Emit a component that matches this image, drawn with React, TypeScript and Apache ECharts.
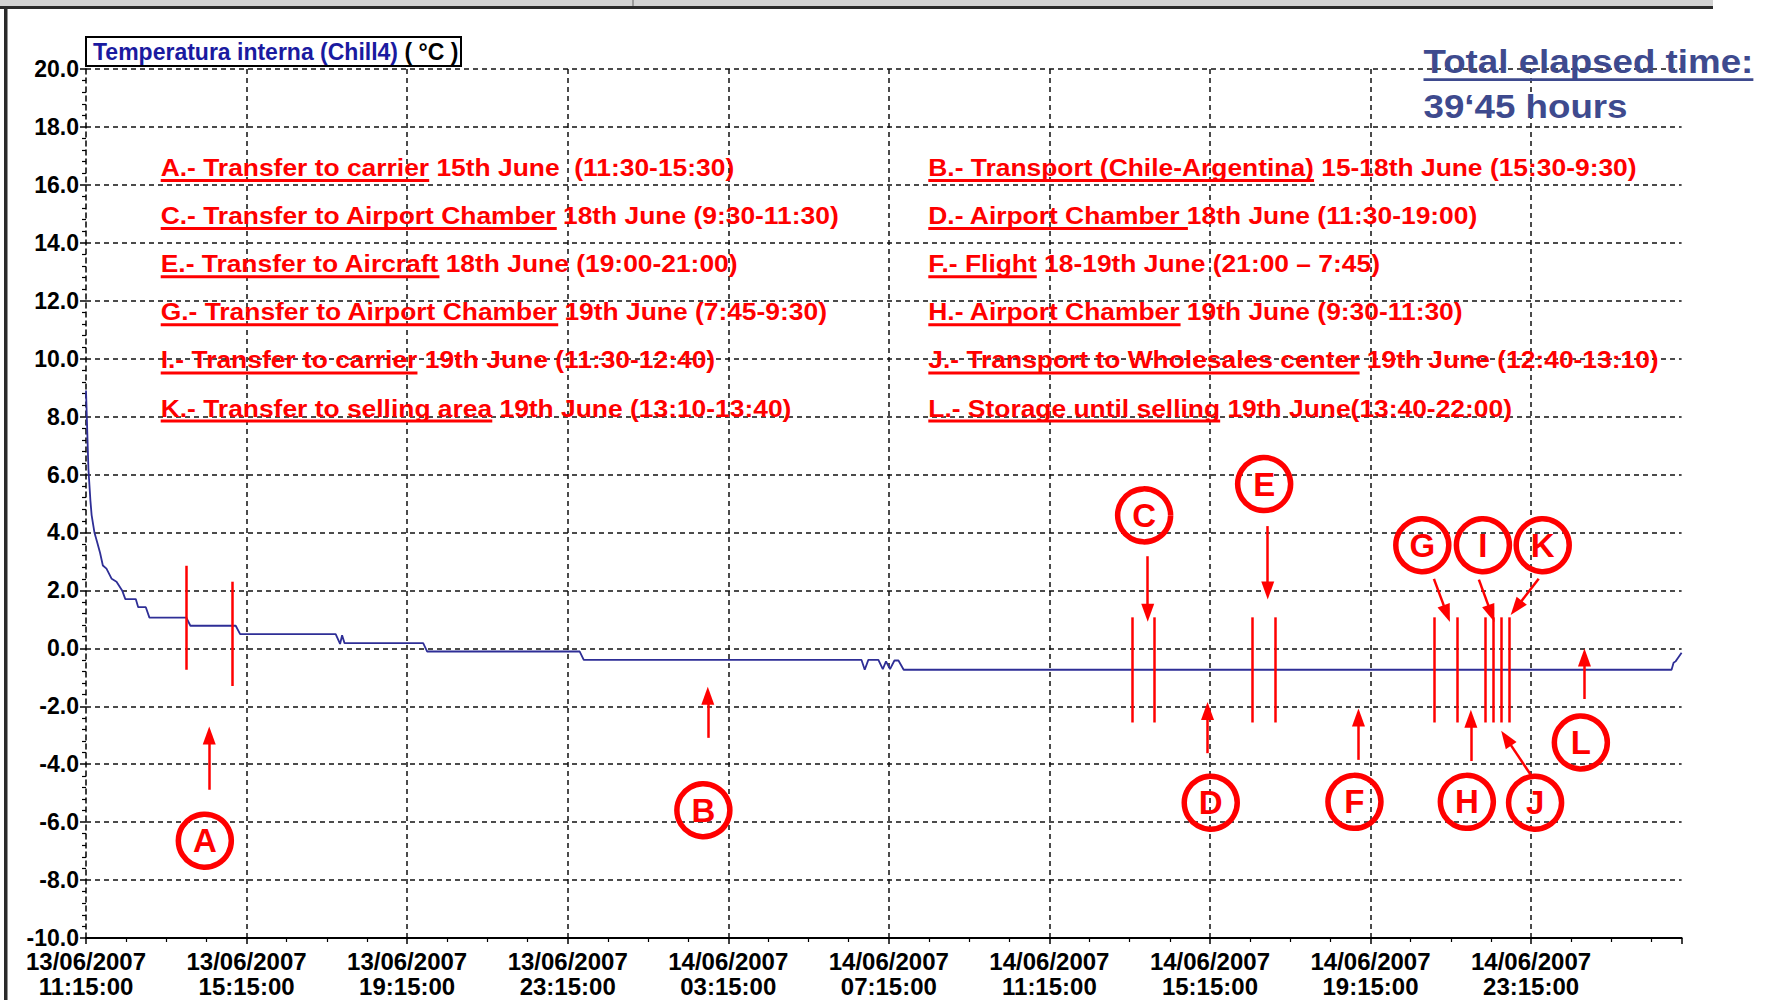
import React, { useEffect, useRef } from "react";
import * as echarts from "echarts";

// ---------- data ----------
// time axis: hours elapsed since 13/06/2007 11:15:00
const START_DAY = 13;
const START_MONTH = "06";
const START_YEAR = "2007";
const START_MINUTES = 11 * 60 + 15;
const X_MAX_HOURS = 39.75;
const X_TICK_HOURS = 4;

const Y_MIN = -10;
const Y_MAX = 20;
const Y_STEP = 2;

const TIME_H = [0, 0.06, 0.11, 0.14, 0.21, 0.28, 0.35, 0.42, 0.51, 0.64, 0.76, 0.9, 0.98, 1.24, 1.3, 1.49, 1.58, 2.5, 2.6, 3.73, 3.84, 6.22, 6.33, 6.38, 6.44, 8.4, 8.5, 12.3, 12.4, 19.32, 19.4, 19.49, 19.74, 19.85, 19.93, 20.03, 20.14, 20.24, 20.37, 39.5, 39.55, 39.6, 39.65, 39.75];
const TEMP_C = [8.9, 6.2, 5.1, 4.6, 4.0, 3.65, 3.3, 2.86, 2.75, 2.4, 2.3, 2.0, 1.7, 1.7, 1.42, 1.42, 1.06, 1.06, 0.78, 0.78, 0.49, 0.49, 0.15, 0.45, 0.18, 0.18, -0.11, -0.11, -0.4, -0.4, -0.74, -0.4, -0.4, -0.72, -0.45, -0.72, -0.42, -0.42, -0.74, -0.74, -0.5, -0.45, -0.35, -0.15];

// red event markers (vertical bars)
const EVENT_X = [2.5, 3.65, 26.07, 26.62, 29.06, 29.63, 33.58, 34.15, 34.86, 35.07, 35.26, 35.45];
const EVENT_TOP = [2.85, 2.3, 1.07, 1.07, 1.07, 1.07, 1.07, 1.07, 1.07, 1.07, 1.07, 1.07];
const EVENT_BOTTOM = [-0.74, -1.3, -2.56, -2.56, -2.56, -2.56, -2.56, -2.56, -2.56, -2.56, -2.56, -2.56];

// arrows (from -> arrow head centre)
const ARROW_NAME = ["A", "B", "C", "D", "E", "F", "G", "H", "I", "J", "K", "L"];
const ARROW_FROM_X = [3.07, 15.49, 26.45, 27.94, 29.44, 31.7, 33.58, 34.5, 34.7, 36.0, 36.19, 37.33];
const ARROW_FROM_Y = [-4.88, -3.09, 3.18, -3.62, 4.22, -3.85, 2.4, -3.89, 2.37, -4.38, 2.4, -1.75];
const ARROW_TO_X = [3.07, 15.49, 26.45, 27.94, 29.44, 31.7, 33.9, 34.5, 35.01, 35.38, 35.63, 37.33];
const ARROW_TO_Y = [-3.01, -1.64, 1.23, -2.16, 2.0, -2.39, 1.2, -2.43, 1.2, -3.1, 1.4, -0.32];

// circled letters
const LETTERS = ["A", "B", "C", "D", "E", "F", "G", "H", "I", "J", "K", "L"];
const CIRCLE_X = [2.96, 15.38, 26.36, 28.02, 29.35, 31.6, 33.29, 34.4, 34.8, 36.1, 36.29, 37.24];
const CIRCLE_Y = [-6.64, -5.59, 4.59, -5.33, 5.67, -5.3, 3.56, -5.3, 3.56, -5.33, 3.56, -3.25];

// legend texts
const LEGEND_SERIES = "Temperatura interna (Chill4)";
const LEGEND_UNIT = " ( °C )";
const ELAPSED_TITLE = "Total elapsed time:";
const ELAPSED_VALUE = "39‘45 hours";

// annotation rows: [underlined part, rest]
const ROWS_LEFT = [
  ["A.- Transfer to carrier", " 15th June  (11:30-15:30)"],
  ["C.- Transfer to Airport Chamber", " 18th June (9:30-11:30)"],
  ["E.- Transfer to Aircraft", " 18th June (19:00-21:00)"],
  ["G.- Transfer to Airport Chamber", " 19th June (7:45-9:30)"],
  ["I.- Transfer to carrier", " 19th June (11:30-12:40)"],
  ["K.- Transfer to selling area", " 19th June (13:10-13:40)"],
];
const ROWS_RIGHT = [
  ["B.- Transport (Chile-Argentina)", " 15-18th June (15:30-9:30)"],
  ["D.- Airport Chamber ", "18th June (11:30-19:00)"],
  ["F.- Flight", " 18-19th June (21:00 – 7:45)"],
  ["H.- Airport Chamber", " 19th June (9:30-11:30)"],
  ["J.- Transport to Wholesales center", " 19th June (12:40-13:10)"],
  ["L.- Storage until selling", " 19th June(13:40-22:00)"],
];

// ---------- helpers ----------
const FONT = "'Liberation Sans', Arial, Helvetica, sans-serif";
const pad = (n: number) => (n < 10 ? "0" + n : "" + n);
function fmtTick(v: number): string {
  const m = Math.round(START_MINUTES + v * 60);
  const d = START_DAY + Math.floor(m / 1440);
  const mm = ((m % 1440) + 1440) % 1440;
  return `${pad(d)}/${START_MONTH}/${START_YEAR}\n${pad(Math.floor(mm / 60))}:${pad(mm % 60)}:00`;
}
function measure(text: string, size: number): number {
  const c = document.createElement("canvas").getContext("2d");
  if (!c) return text.length * size * 0.55;
  c.font = `bold ${size}px ${FONT}`;
  return c.measureText(text).width;
}

const RED = "#ff0000";
const GRID_LEFT = 86;
const GRID_TOP = 69;
const GRID_W = 1595.6;
const GRID_H = 869;

export default function App() {
  const ref = useRef<HTMLDivElement>(null);
  useEffect(() => {
    if (!ref.current) return;
    const chart = echarts.init(ref.current, undefined, { renderer: "svg" });

    const els: any[] = [];
    // window frame
    els.push({ type: "rect", shape: { x: 0, y: 0, width: 1713, height: 6 }, style: { fill: "#d2d2d2" }, silent: true });
    els.push({ type: "rect", shape: { x: 0, y: 6, width: 1713, height: 3 }, style: { fill: "#2a2a2a" }, silent: true });
    els.push({ type: "rect", shape: { x: 632, y: 0, width: 2, height: 6 }, style: { fill: "#9a9a9a" }, silent: true });
    els.push({ type: "rect", shape: { x: 4, y: 6, width: 3.5, height: 994 }, style: { fill: "#2a2a2a" }, silent: true });

    // legend box
    els.push({ type: "rect", shape: { x: 86, y: 37, width: 375, height: 29 }, style: { fill: "#ffffff", stroke: "#000", lineWidth: 2 }, z: 10 });
    els.push({
      type: "text", x: 93, y: 52, z: 11,
      style: {
        text: `{a|${LEGEND_SERIES}}{b|${LEGEND_UNIT}}`,
        verticalAlign: "middle", align: "left",
        rich: {
          a: { fill: "#1a1aa0", fontSize: 23, fontWeight: "bold", fontFamily: FONT },
          b: { fill: "#000000", fontSize: 23, fontWeight: "bold", fontFamily: FONT },
        },
      },
    });

    // total elapsed time
    const EL_SCALE = 1.08;
    const EL_X = 1423.5;
    els.push({ type: "text", x: EL_X, y: 60.5, scaleX: EL_SCALE, z: 10, style: { text: ELAPSED_TITLE, fill: "#3e4a8e", font: `bold 34px ${FONT}`, verticalAlign: "middle", align: "left" } });
    els.push({ type: "rect", shape: { x: EL_X, y: 78.3, width: measure(ELAPSED_TITLE, 34) * EL_SCALE, height: 2.8 }, style: { fill: "#3e4a8e" }, z: 10 });
    els.push({ type: "text", x: EL_X, y: 105.8, scaleX: EL_SCALE, z: 10, style: { text: ELAPSED_VALUE, fill: "#3e4a8e", font: `bold 34px ${FONT}`, verticalAlign: "middle", align: "left" } });

    // red annotation rows
    const RS = 1.1;
    const addRows = (rows: string[][], x: number) => {
      rows.forEach((r, i) => {
        const y = 167.5 + i * 48.1;
        els.push({ type: "text", x, y, scaleX: RS, z: 10, style: { text: r[0] + r[1], fill: RED, font: `bold 24px ${FONT}`, verticalAlign: "middle", align: "left" } });
        els.push({ type: "rect", shape: { x, y: y + 11.5, width: measure(r[0], 24) * RS, height: 3 }, style: { fill: RED }, z: 10 });
      });
    };
    addRows(ROWS_LEFT, 160.7);
    addRows(ROWS_RIGHT, 928.3);

    const dash = [5, 4];
    const option: any = {
      animation: false,
      backgroundColor: "#ffffff",
      textStyle: { fontFamily: FONT },
      grid: { left: GRID_LEFT, top: GRID_TOP, width: GRID_W, height: GRID_H, containLabel: false },
      xAxis: {
        type: "value", min: 0, max: X_MAX_HOURS, interval: X_TICK_HOURS,
        axisLine: { show: true, onZero: false, lineStyle: { color: "#000", width: 2 } },
        axisTick: { show: true, length: 6, lineStyle: { color: "#000", width: 1.5 } },
        minorTick: { show: true, splitNumber: 4, length: 4, lineStyle: { color: "#000", width: 1.2 } },
        axisLabel: {
          show: true, formatter: (v: number) => fmtTick(v), color: "#000", fontSize: 24, fontWeight: "bold",
          fontFamily: FONT, lineHeight: 25, margin: 11, showMaxLabel: false,
        },
        splitLine: { show: true, showMinLine: false, showMaxLine: false, lineStyle: { color: "#111", width: 1.5, type: dash } },
      },
      yAxis: {
        type: "value", min: Y_MIN, max: Y_MAX, interval: Y_STEP,
        axisLine: { show: true, onZero: false, lineStyle: { color: "#000", width: 1.5, type: dash } },
        axisTick: { show: true, length: 6, lineStyle: { color: "#000", width: 1.5 } },
        minorTick: { show: true, splitNumber: 5, length: 4, lineStyle: { color: "#000", width: 1.2 } },
        axisLabel: { show: true, formatter: (v: number) => v.toFixed(1), color: "#000", fontSize: 23, fontWeight: "bold", fontFamily: FONT, margin: 7, lineHeight: 19 },
        splitLine: { show: true, showMinLine: false, lineStyle: { color: "#111", width: 1.5, type: dash } },
      },
      series: [
        {
          type: "line", name: LEGEND_SERIES, data: TIME_H.map((t, i) => [t, TEMP_C[i]]),
          showSymbol: false, symbol: "none", lineStyle: { color: "#2e2e96", width: 1.8 }, z: 3, silent: true,
        },
        {
          type: "lines", coordinateSystem: "cartesian2d", silent: true, z: 4,
          data: EVENT_X.map((x, i) => ({ coords: [[x, EVENT_TOP[i]], [x, EVENT_BOTTOM[i]]] })),
          symbol: "none", lineStyle: { color: RED, width: 2.5, opacity: 1, type: "solid" },
        },
        {
          type: "lines", coordinateSystem: "cartesian2d", silent: true, z: 4,
          data: ARROW_NAME.map((n, i) => ({ name: n, coords: [[ARROW_FROM_X[i], ARROW_FROM_Y[i]], [ARROW_TO_X[i], ARROW_TO_Y[i]]] })),
          symbol: ["none", "triangle"], symbolSize: [1, [13, 18]],
          lineStyle: { color: RED, width: 2.5, opacity: 1, type: "solid" },
        },
        {
          type: "scatter", silent: true, z: 5,
          data: LETTERS.map((l, i) => ({ name: l, value: [CIRCLE_X[i], CIRCLE_Y[i]] })),
          symbol: "circle", symbolSize: 53,
          itemStyle: { color: "rgba(255,255,255,0)", borderColor: RED, borderWidth: 5.5, opacity: 1 },
          label: { show: true, position: "inside", formatter: "{b}", color: RED, fontSize: 33, fontWeight: "bold", fontFamily: FONT },
        },
      ],
      graphic: { elements: els },
    };
    chart.setOption(option);
    return () => chart.dispose();
  }, []);

  return (
    <div
      ref={ref}
      style={{ position: "fixed", left: 0, top: 0, width: 1773, height: 1000, background: "#ffffff", overflow: "hidden" }}
    />
  );
}
